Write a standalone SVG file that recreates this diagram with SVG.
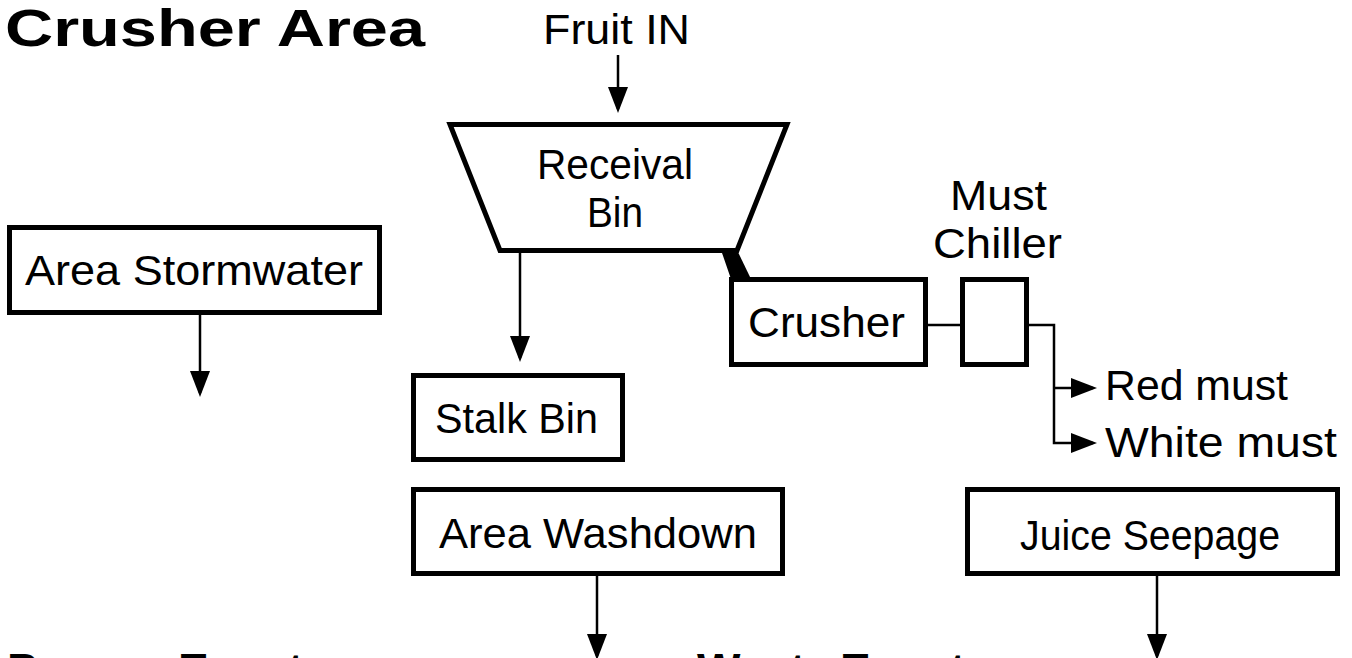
<svg xmlns="http://www.w3.org/2000/svg" width="1352" height="658" viewBox="0 0 1352 658">
<style>
.box{fill:#fff;stroke:#000;stroke-width:5}
.lbl{font-family:"Liberation Sans",Arial,sans-serif;font-size:42px;fill:#000}
.bold{font-family:"Liberation Sans",Arial,sans-serif;font-weight:bold;fill:#000}
.ln{fill:none;stroke:#000;stroke-width:2.5}
.arr{fill:none;stroke:#000;stroke-width:2.5;marker-end:url(#ah)}
</style>
<defs>
<marker id="ah" markerUnits="userSpaceOnUse" markerWidth="26" markerHeight="20" refX="22" refY="10" orient="auto" overflow="visible">
<path d="M0,0 L26,10 L0,20 z" fill="#000"/>
</marker>
</defs>
<rect width="1352" height="658" fill="#fff"/>
<text class="bold" x="5" y="46" font-size="52" textLength="420" lengthAdjust="spacingAndGlyphs">Crusher Area</text>
<text class="lbl" x="543" y="44" textLength="147" lengthAdjust="spacingAndGlyphs">Fruit IN</text>
<g id="connectors">
<line class="arr" x1="618" y1="55" x2="618" y2="109"/>
<line class="arr" x1="200" y1="315" x2="200" y2="393"/>
<line class="arr" x1="520" y1="252" x2="520" y2="358"/>
<line class="arr" x1="597" y1="576" x2="597" y2="656"/>
<line class="arr" x1="1157" y1="576" x2="1157" y2="656"/>
<polygon points="721,250 737,250 751,279 731,279" fill="#000"/>
<path class="ln" d="M928,325 H962"/>
<path class="arr" d="M1027,325 H1054 V443 H1093"/>
<path class="arr" d="M1054,388 H1093"/>
</g>
<g id="receival-bin">
<polygon class="box" points="450,124.5 787,124.5 737,250.5 500,250.5"/>
<text class="lbl" x="537" y="179" textLength="156" lengthAdjust="spacingAndGlyphs">Receival</text>
<text class="lbl" x="587" y="227" textLength="56" lengthAdjust="spacingAndGlyphs">Bin</text>
</g>
<g id="area-stormwater">
<rect class="box" x="9.5" y="227.5" width="370" height="85"/>
<text class="lbl" x="25" y="285" textLength="338" lengthAdjust="spacingAndGlyphs">Area Stormwater</text>
</g>
<g id="crusher">
<rect class="box" x="731.5" y="279.5" width="194" height="85"/>
<text class="lbl" x="748" y="337" textLength="157" lengthAdjust="spacingAndGlyphs">Crusher</text>
</g>
<g id="must-chiller">
<rect class="box" x="962.5" y="279.5" width="64" height="85"/>
<text class="lbl" x="950" y="210" textLength="97" lengthAdjust="spacingAndGlyphs">Must</text>
<text class="lbl" x="933" y="258" textLength="129" lengthAdjust="spacingAndGlyphs">Chiller</text>
</g>
<g id="red-must">
<text class="lbl" x="1105" y="400" textLength="183" lengthAdjust="spacingAndGlyphs">Red must</text>
</g>
<g id="white-must">
<text class="lbl" x="1105" y="457" textLength="232" lengthAdjust="spacingAndGlyphs">White must</text>
</g>
<g id="stalk-bin">
<rect class="box" x="413.5" y="375.5" width="209" height="84"/>
<text class="lbl" x="435" y="433" textLength="163" lengthAdjust="spacingAndGlyphs">Stalk Bin</text>
</g>
<g id="area-washdown">
<rect class="box" x="413.5" y="489.5" width="369" height="84"/>
<text class="lbl" x="439" y="548" textLength="318" lengthAdjust="spacingAndGlyphs">Area Washdown</text>
</g>
<g id="juice-seepage">
<rect class="box" x="967.5" y="489.5" width="370" height="84"/>
<text class="lbl" x="1020" y="550" textLength="260" lengthAdjust="spacingAndGlyphs">Juice Seepage</text>
</g>
<text class="bold" x="7" y="686" font-size="46"><tspan x="7">Process</tspan><tspan x="178">Events</tspan></text>
<text class="bold" x="697" y="686" font-size="46"><tspan x="697">Waste</tspan><tspan x="840">Events</tspan></text>
</svg>
